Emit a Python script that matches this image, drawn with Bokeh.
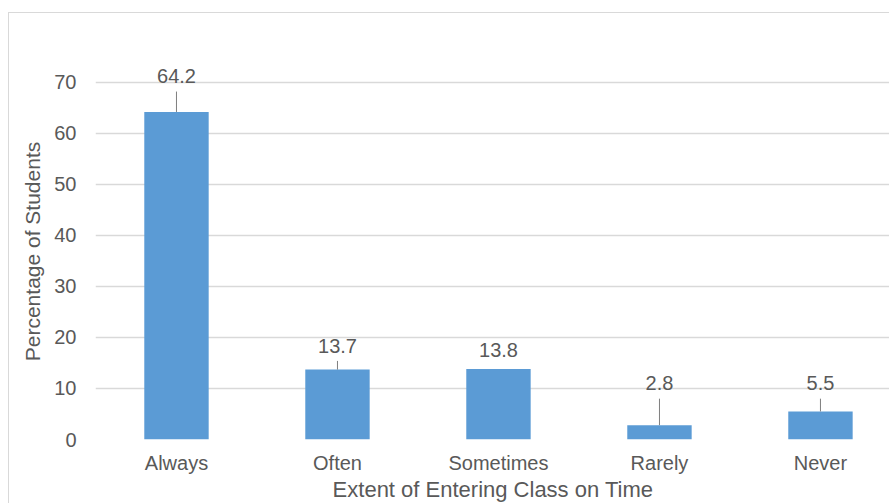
from bokeh.plotting import figure
from bokeh.models import ColumnDataSource, FixedTicker, Range1d
from bokeh.core.properties import value
from bokeh.embed import file_html
from bokeh.resources import INLINE

# Survey responses: how often students enter class on time
categories = ["Always", "Often", "Sometimes", "Rarely", "Never"]
percentages = [64.2, 13.7, 13.8, 2.8, 5.5]
y_ticks = [0, 10, 20, 30, 40, 50, 60, 70]

# Where each value label sits above its bar (in axis units)
label_lift = [7.0, 4.7, 3.7, 8.2, 5.5]

FONT = value("Liberation Sans")
TEXT = "#595959"
GRID = "#d9d9d9"
BAR = "#5B9BD5"

xs = list(range(len(categories)))
label_y = [v + d for v, d in zip(percentages, label_lift)]
# leader lines only where the label is clearly detached from its bar
lead_x, lead_top, lead_bot = [], [], []
for x, v, ly in zip(xs, percentages, label_y):
    if ly - 3.0 > v + 1.5:
        lead_x.append(x)
        lead_top.append(ly - 3.0)
        lead_bot.append(v)

# chart area sits inside a thin light border, offset from the page corner
p = figure(
    width=881, height=491,
    x_range=Range1d(-0.503, 4.435),
    y_range=Range1d(0, 73.7),
    output_backend="svg",
    toolbar_location=None,
    min_border_left=86, min_border_right=0,
    min_border_top=50, min_border_bottom=58,
)
p.styles = {
    "margin-left": "8px",
    "margin-top": "12px",
    "border-left": "1.5px solid #d9d9d9",
    "border-top": "1.5px solid #d9d9d9",
}
p.outline_line_color = None
p.background_fill_color = "white"
p.border_fill_color = "white"

src = ColumnDataSource(dict(x=xs, top=percentages, label=[f"{v:.1f}" for v in percentages], ly=label_y))
p.vbar(x="x", top="top", width=0.4, bottom=0, source=src, fill_color=BAR, line_color=None)

p.segment(x0=lead_x, y0=lead_top, x1=lead_x, y1=lead_bot, line_color="#7f7f7f", line_width=1)

p.text(x="x", y="ly", text="label", source=src, text_align="center", text_baseline="middle",
       text_font=FONT, text_font_size="20px", text_color=TEXT)

p.xgrid.grid_line_color = None
p.ygrid.grid_line_color = GRID
p.ygrid.grid_line_width = 1.5
p.ygrid.ticker = FixedTicker(ticks=y_ticks)

xa = p.xaxis[0]
xa.ticker = FixedTicker(ticks=xs)
xa.major_label_overrides = {i: c for i, c in enumerate(categories)}
xa.axis_line_color = None
xa.major_tick_line_color = None
xa.minor_tick_line_color = None
xa.major_label_standoff = 6
xa.major_label_text_font = "Liberation Sans"
xa.major_label_text_font_size = "20px"
xa.major_label_text_color = TEXT
xa.axis_label = "Extent of Entering Class on Time"
xa.axis_label_text_font = "Liberation Sans"
xa.axis_label_text_font_style = "normal"
xa.axis_label_text_font_size = "22px"
xa.axis_label_text_color = TEXT
xa.axis_label_standoff = 0

ya = p.yaxis[0]
ya.ticker = FixedTicker(ticks=y_ticks)
ya.axis_line_color = None
ya.major_tick_line_color = None
ya.minor_tick_line_color = None
ya.major_label_standoff = 13
ya.major_label_text_font = "Liberation Sans"
ya.major_label_text_font_size = "20px"
ya.major_label_text_color = TEXT
ya.axis_label = "Percentage of Students"
ya.axis_label_text_font = "Liberation Sans"
ya.axis_label_text_font_style = "normal"
ya.axis_label_text_font_size = "21px"
ya.axis_label_text_color = TEXT
ya.axis_label_standoff = 7

open("out.html", "w").write(file_html(p, INLINE))
